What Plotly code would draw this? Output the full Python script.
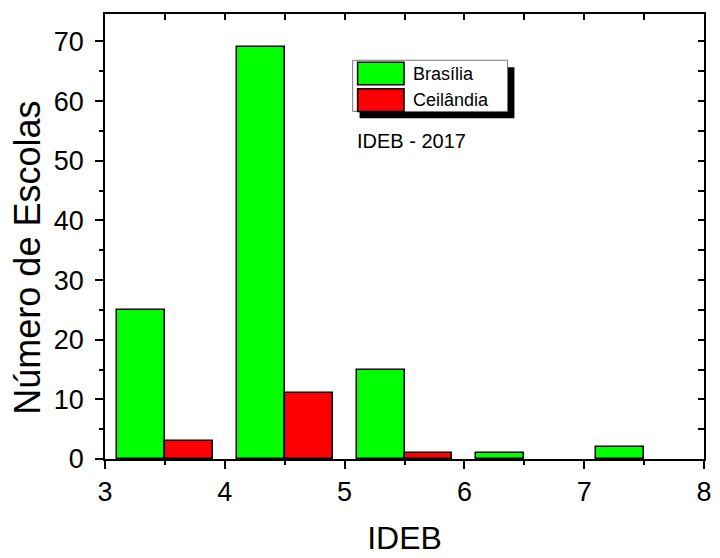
import plotly.graph_objects as go

# ---- data ----
series_names = ["Brasília", "Ceilândia"]
ideb_brasilia = [3.3, 4.3, 5.3, 6.3, 7.3]
escolas_brasilia = [25, 69, 15, 1, 2]
ideb_ceilandia = [3.7, 4.7, 5.7]
escolas_ceilandia = [3, 11, 1]
x_ticks = [3, 4, 5, 6, 7, 8]
y_ticks = [0, 10, 20, 30, 40, 50, 60, 70]
note_text = "IDEB - 2017"
x_title = "IDEB"
y_title = "Número de Escolas"

colors = ["#00ff00", "#ff0000"]
FONT = "Liberation Sans, Arial, sans-serif"

fig = go.Figure()
fig.add_trace(go.Bar(x=ideb_brasilia, y=escolas_brasilia, width=0.4, name=series_names[0],
                     marker=dict(color=colors[0], line=dict(color="black", width=1.5)),
                     showlegend=False))
fig.add_trace(go.Bar(x=ideb_ceilandia, y=escolas_ceilandia, width=0.4, name=series_names[1],
                     marker=dict(color=colors[1], line=dict(color="black", width=1.5)),
                     showlegend=False))

axis_common = dict(showgrid=False, zeroline=False, tickcolor="black", tickwidth=1.5,
                   tickfont=dict(family=FONT, size=27, color="black"))

fig.update_layout(
    width=720, height=558,
    margin=dict(l=105, r=8, t=14, b=91),
    paper_bgcolor="white", plot_bgcolor="white",
    barmode="overlay", bargap=0,
    font=dict(family=FONT, color="black"),
    xaxis=dict(range=[3, 8], tickvals=x_ticks, ticks="outside", ticklen=8,
               showline=True, linecolor="black", linewidth=1.5, mirror=True,
               minor=dict(dtick=0.5, tick0=3, ticks="outside", ticklen=4,
                          tickcolor="black", tickwidth=1.5),
               title=dict(text=x_title, font=dict(family=FONT, size=32, color="black"), standoff=20),
               **axis_common),
    yaxis=dict(range=[0, 74.6], tickvals=y_ticks, ticks="outside", ticklen=8,
               showline=True, linecolor="black", linewidth=1.5, mirror=True,
               ticklabelstandoff=6,
               minor=dict(dtick=5, tick0=0, ticks="outside", ticklen=4,
                          tickcolor="black", tickwidth=1.5),
               **axis_common),
    xaxis2=dict(range=[3, 8], overlaying="x", side="top", tickvals=x_ticks, ticks="inside",
                ticklen=6, showticklabels=False, showline=False, showgrid=False, zeroline=False,
                tickcolor="black", tickwidth=1.5,
                minor=dict(dtick=0.5, tick0=3, ticks="inside", ticklen=6,
                           tickcolor="black", tickwidth=1.5)),
    yaxis2=dict(range=[0, 74.6], overlaying="y", side="right", tickvals=y_ticks, ticks="inside",
                ticklen=6, showticklabels=False, showline=False, showgrid=False, zeroline=False,
                tickcolor="black", tickwidth=1.5,
                minor=dict(dtick=5, tick0=0, ticks="inside", ticklen=6,
                           tickcolor="black", tickwidth=1.5)),
)
# invisible trace to activate the mirrored tick axes
fig.add_trace(go.Scatter(x=[3], y=[0], xaxis="x2", yaxis="y2", mode="markers",
                         marker=dict(opacity=0), showlegend=False, hoverinfo="skip"))

# y-axis title (placed as rotated text, slightly below the axis centre as in the original)
fig.add_annotation(x=-0.1285, y=0.4525, xref="paper", yref="paper", text=y_title,
                   textangle=-90, showarrow=False, xanchor="center", yanchor="middle",
                   font=dict(family=FONT, size=36, color="black"))

# ---- custom legend (box with drop shadow, large swatches) ----
bx0, bx1, by0, by1 = 0.4135, 0.672, 0.781, 0.896
sx, sy = 0.0115, 0.0155
shapes = [
    dict(type="rect", xref="paper", yref="paper", x0=bx0 + sx, x1=bx1 + sx, y0=by0 - sy, y1=by1 - sy,
         fillcolor="black", line=dict(width=0), layer="above"),
    dict(type="rect", xref="paper", yref="paper", x0=bx0, x1=bx1, y0=by0, y1=by1,
         fillcolor="white", line=dict(color="#777777", width=1), layer="above"),
    dict(type="rect", xref="paper", yref="paper", x0=0.4217, x1=0.4992, y0=0.841, y1=0.8918,
         fillcolor=colors[0], line=dict(color="black", width=1.5), layer="above"),
    dict(type="rect", xref="paper", yref="paper", x0=0.4217, x1=0.4992, y0=0.781, y1=0.832,
         fillcolor=colors[1], line=dict(color="black", width=1.5), layer="above"),
]
fig.update_layout(shapes=shapes)
fig.add_annotation(x=0.5107, y=0.866, xref="paper", yref="paper", text=series_names[0],
                   showarrow=False, xanchor="left", yanchor="middle",
                   font=dict(family=FONT, size=18, color="black"))
fig.add_annotation(x=0.5107, y=0.806, xref="paper", yref="paper", text=series_names[1],
                   showarrow=False, xanchor="left", yanchor="middle",
                   font=dict(family=FONT, size=18, color="black"))
fig.add_annotation(x=0.418, y=0.715, xref="paper", yref="paper", text=note_text,
                   showarrow=False, xanchor="left", yanchor="middle",
                   font=dict(family=FONT, size=20, color="black"))

fig.write_html("out.html", config={"displayModeBar": False},
               post_script="document.body.style.margin='0';")
